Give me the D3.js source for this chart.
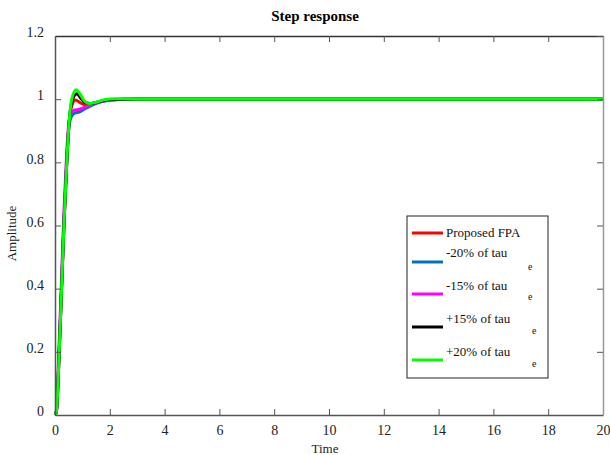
<!DOCTYPE html>
<html>
<head>
<meta charset="utf-8">
<script src="https://cdn.jsdelivr.net/npm/d3@7"></script>
<style>
  html, body { margin: 0; padding: 0; background: #fff; }
  svg { display: block; font-family: "Liberation Serif", "Times New Roman", serif; }
</style>
</head>
<body>
<svg id="chart" width="610" height="455"></svg>
<script>
// Step response of the closed loop for the nominal design and for
// perturbed time constants (tau_e).
const xTicks = [0, 2, 4, 6, 8, 10, 12, 14, 16, 18, 20];
const yTicks = [0, 0.2, 0.4, 0.6, 0.8, 1, 1.2];

const seriesNames = ["Proposed FPA", "-20% of tau", "-15% of tau", "+15% of tau", "+20% of tau"];
const seriesSubs = ["", "e", "e", "e", "e"];
const seriesColors = ["#ff0000", "#0072bd", "#ff00ff", "#000000", "#00ff00"];

// [time, amplitude] samples
const proposedFPA = [[0,0],[0.05,0.01],[0.15,0.19],[0.24,0.40],[0.33,0.61],[0.43,0.80],[0.51,0.92],[0.6,0.975],[0.75,0.997],[0.9,0.99],[1.1,0.982],[1.4,0.985],[1.8,0.995],[2.5,1.0],[5,1.0],[20,1.0]];
const minus20 = [[0,0],[0.05,0.012],[0.15,0.20],[0.24,0.41],[0.33,0.62],[0.43,0.81],[0.51,0.915],[0.6,0.945],[0.7,0.955],[0.9,0.96],[1.1,0.97],[1.4,0.983],[1.8,0.994],[2.5,1.0],[5,1.0],[20,1.0]];
const minus15 = [[0,0],[0.05,0.014],[0.14,0.20],[0.23,0.41],[0.32,0.63],[0.42,0.82],[0.5,0.92],[0.58,0.955],[0.7,0.965],[0.9,0.968],[1.1,0.975],[1.4,0.985],[1.8,0.995],[2.5,1.0],[5,1.0],[20,1.0]];
const plus15 = [[0,0],[0.05,0.01],[0.15,0.19],[0.24,0.40],[0.33,0.61],[0.43,0.80],[0.51,0.92],[0.61,0.99],[0.8,1.017],[0.95,1.002],[1.1,0.99],[1.3,0.986],[1.6,0.992],[2.0,0.999],[3,1.0],[20,1.0]];
const plus20 = [[0,0],[0.05,0.01],[0.15,0.19],[0.24,0.40],[0.33,0.61],[0.43,0.80],[0.51,0.92],[0.61,1.0],[0.77,1.03],[0.9,1.018],[1.05,0.997],[1.25,0.986],[1.5,0.99],[1.8,0.998],[2.2,1.001],[3,1.0],[20,1.0]];
const seriesData = [proposedFPA, minus20, minus15, plus15, plus20];

const svg = d3.select("#chart");
const margin = { left: 55, right: 7, top: 36, bottom: 40 };
const W = 610, H = 455;
const x = d3.scaleLinear().domain([0, 20]).range([margin.left, W - margin.right]);
const y = d3.scaleLinear().domain([0, 1.2]).range([H - margin.bottom, margin.top]);

// Curves
const line = d3.line().x(d => x(d[0])).y(d => y(d[1])).curve(d3.curveMonotoneX);
const plot = svg.append("g");
seriesData.forEach((data, i) => {
  plot.append("path")
    .datum(data)
    .attr("d", line)
    .attr("fill", "none")
    .attr("stroke", seriesColors[i])
    .attr("stroke-width", 3)
    .attr("stroke-linejoin", "round");
});

// Axes (ticks pointing inward on all four sides)
const fmt = d => d3.format("~g")(d);
const axBottom = svg.append("g").attr("transform", `translate(0,${y(0)})`)
  .call(d3.axisBottom(x).tickValues(xTicks).tickSizeInner(-6).tickSizeOuter(0).tickPadding(10).tickFormat(fmt));
const axLeft = svg.append("g").attr("transform", `translate(${x(0)},0)`)
  .call(d3.axisLeft(y).tickValues(yTicks).tickSizeInner(-6).tickSizeOuter(0).tickPadding(11).tickFormat(fmt));
const axTop = svg.append("g").attr("transform", `translate(0,${y(1.2)})`)
  .call(d3.axisTop(x).tickValues(xTicks).tickSizeInner(-6).tickSizeOuter(0).tickFormat(""));
const axRight = svg.append("g").attr("transform", `translate(${x(20)},0)`)
  .call(d3.axisRight(y).tickValues(yTicks).tickSizeInner(-6).tickSizeOuter(0).tickFormat(""));

[axBottom, axLeft, axTop, axRight].forEach(g => {
  g.selectAll(".domain").attr("stroke", "#555").attr("stroke-width", 1.5);
  g.selectAll(".tick line").attr("stroke", "#555");
  g.selectAll("text").attr("fill", "#222").style("font-size", "14px")
    .style("font-family", "'Liberation Serif', serif");
});
axTop.selectAll(".domain").attr("stroke", "#333");
axRight.selectAll(".domain").attr("stroke", "#999");
axLeft.selectAll(".tick text").attr("dy", "0.05em");

// Titles
svg.append("text").attr("x", 315).attr("y", 21).attr("text-anchor", "middle")
  .style("font-size", "15px").style("font-weight", "bold").attr("fill", "#000").text("Step response");
svg.append("text").attr("x", (x(0) + x(20)) / 2 - 4).attr("y", 453).attr("text-anchor", "middle")
  .style("font-size", "13px").attr("fill", "#222").text("Time");
svg.append("text").attr("transform", `translate(16,${(y(0) + y(1.2)) / 2 + 8}) rotate(-90)`)
  .attr("text-anchor", "middle").style("font-size", "13px").attr("fill", "#222").text("Amplitude");

// Legend
const legend = svg.append("g");
legend.append("rect").attr("x", 407).attr("y", 216).attr("width", 141).attr("height", 162)
  .attr("fill", "#fff").attr("stroke", "#222").attr("stroke-width", 1);
const rowY = [233, 262, 294, 327, 360];
const textY = [237, 257, 290, 323, 356];
const subX = [0, 528, 528, 532, 532];
const subY = [0, 270, 300, 334, 367];
seriesNames.forEach((name, i) => {
  legend.append("line").attr("x1", 412).attr("x2", 443).attr("y1", rowY[i]).attr("y2", rowY[i])
    .attr("stroke", seriesColors[i]).attr("stroke-width", 3);
  legend.append("text").attr("x", 446).attr("y", textY[i]).style("font-size", "13px")
    .attr("fill", "#111").text(name);
  if (seriesSubs[i]) {
    legend.append("text").attr("x", subX[i]).attr("y", subY[i]).style("font-size", "10px")
      .attr("fill", "#111").text(seriesSubs[i]);
  }
});
</script>
</body>
</html>
